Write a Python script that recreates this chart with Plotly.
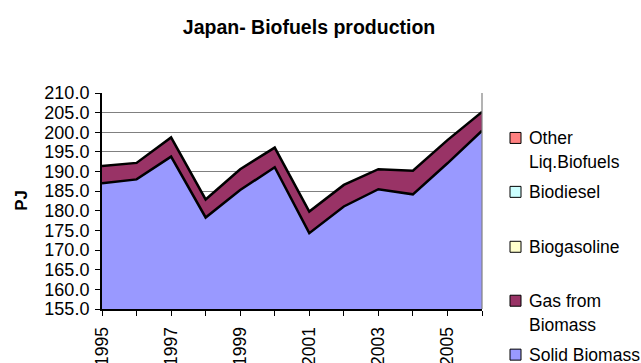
import plotly.graph_objects as go

# Japan biofuels production, PJ
years = [1995, 1996, 1997, 1998, 1999, 2000, 2001, 2002, 2003, 2004, 2005, 2006]
solid_biomass = [187.0, 188.0, 193.8, 178.3, 185.3, 191.1, 174.3, 181.1, 185.5, 184.2, 192.1, 200.4]
gas_from_biomass = [4.4, 4.2, 4.9, 4.6, 5.3, 5.0, 5.5, 5.5, 5.1, 6.0, 5.9, 4.8]
biogasoline = [0.0, 0.0, 0.0, 0.0, 0.0, 0.0, 0.0, 0.0, 0.0, 0.0, 0.0, 0.0]
biodiesel = [0.0, 0.0, 0.0, 0.0, 0.0, 0.0, 0.0, 0.0, 0.0, 0.0, 0.0, 0.0]
other_liq_biofuels = [0.0, 0.0, 0.0, 0.0, 0.0, 0.0, 0.0, 0.0, 0.0, 0.0, 0.0, 0.0]

# stacking order, bottom to top
series_names = ["Solid Biomass", "Gas from Biomass", "Biogasoline", "Biodiesel", "Other Liq.Biofuels"]
series_values = [solid_biomass, gas_from_biomass, biogasoline, biodiesel, other_liq_biofuels]
series_colors = ["#9999FF", "#993366", "#FFFFCC", "#CCFFFF", "#FF8080"]
legend_labels = ["Solid Biomass", "Gas from\nBiomass", "Biogasoline", "Biodiesel", "Other\nLiq.Biofuels"]

y_ticks = [155, 160, 165, 170, 175, 180, 185, 190, 195, 200, 205, 210]

FONT = "Liberation Sans, Arial, sans-serif"
W, H = 641, 363
PL, PR, PT, PB = 102, 482, 93, 309.3  # plot area in pixels


def px_x(px):
    return (px - PL) / (PR - PL)


def px_y(py):
    return (PB - py) / (PB - PT)


fig = go.Figure()
for name, vals, col in zip(series_names, series_values, series_colors):
    has_data = any(v != 0 for v in vals)
    fig.add_trace(go.Scatter(
        x=years, y=vals, name=name, mode="lines",
        stackgroup="biofuels", fillcolor=col,
        line=dict(color="black", width=2.5 if has_data else 0),
        showlegend=False,
    ))

# right border of the plot frame
fig.add_shape(type="line", xref="paper", yref="paper", x0=1, x1=1, y0=0, y1=1,
              line=dict(color="#808080", width=1.2), layer="above")

# legend, top entry first
legend_centers = [355, 301, 247, 192, 138]
for label, col, cy in zip(legend_labels, series_colors, legend_centers):
    fig.add_shape(type="rect", xref="paper", yref="paper",
                  x0=px_x(510), x1=px_x(521), y0=px_y(cy + 5.5), y1=px_y(cy - 5.5),
                  fillcolor=col, line=dict(color="black", width=1))
    for i, line in enumerate(label.split("\n")):
        fig.add_annotation(x=px_x(527), y=px_y(cy + 24 * i), xref="paper", yref="paper",
                           text=line, showarrow=False, xanchor="left", yanchor="middle",
                           font=dict(family=FONT, size=17.5, color="black"))

# y axis title
fig.add_annotation(x=px_x(22), y=px_y(201), xref="paper", yref="paper",
                   text="<b>PJ</b>", showarrow=False, textangle=-90,
                   xanchor="center", yanchor="middle",
                   font=dict(family=FONT, size=17, color="black"))

fig.update_layout(
    width=W, height=H,
    margin=dict(l=PL, r=W - PR, t=PT, b=H - PB, autoexpand=False),
    paper_bgcolor="white", plot_bgcolor="white",
    title=dict(text="<b>Japan- Biofuels production</b>", x=309 / W, y=1 - 27 / H,
               xanchor="center", yanchor="middle", xref="container", yref="container",
               font=dict(family=FONT, size=19.5, color="black")),
    font=dict(family=FONT, size=17, color="black"),
    xaxis=dict(range=[1995, 2006], tickmode="linear", tick0=1995, dtick=1, ticklabelstep=2,
               tickangle=-90, ticks="outside", ticklen=5, tickcolor="black",
               ticklabelstandoff=4,
               showline=True, linecolor="black", linewidth=2, showgrid=False,
               zeroline=False, automargin=False, tickfont=dict(size=17.5)),
    yaxis=dict(range=[155, 210], tickmode="array", tickvals=y_ticks, tickformat=".1f",
               ticks="outside", ticklen=5, tickcolor="black",
               ticklabelstandoff=2,
               showline=True, linecolor="black", linewidth=2,
               showgrid=True, gridcolor="#808080", gridwidth=1.2,
               zeroline=False, automargin=False, tickfont=dict(size=18)),
)

fig.write_html("out.html")
